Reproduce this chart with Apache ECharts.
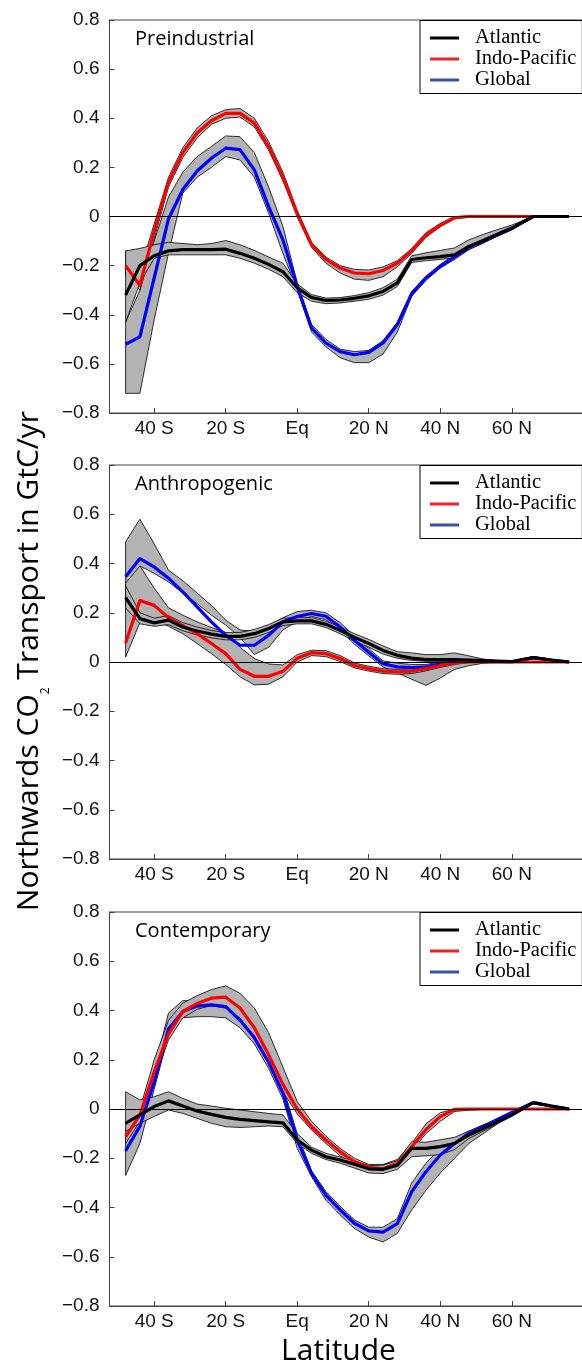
<!DOCTYPE html>
<html>
<head>
<meta charset="utf-8">
<script src="https://cdn.jsdelivr.net/npm/echarts@6/dist/echarts.min.js"></script>
<style>
  html, body { margin: 0; padding: 0; background: #fff; overflow: hidden; }
  #chart { width: 600px; height: 1366px; }
</style>
</head>
<body>
<div id="chart"></div>
<script>
// Latitude nodes (degrees, negative = south)
const lat = [-48,-44,-40,-36,-32,-28,-24,-20,-16,-12,-8,-4,0,4,8,12,16,20,24,28,32,36,40,44,48,52,56,60,66,71,76];
const latTicks = [-40,-20,0,20,40,60];
const seriesNames = ['Atlantic','Indo-Pacific','Global'];
const panelTitles = ['Preindustrial','Anthropogenic','Contemporary'];

// ---- Preindustrial (GtC/yr) ----
const atlPre   = [-0.32,-0.20,-0.16,-0.14,-0.135,-0.135,-0.135,-0.133,-0.15,-0.17,-0.195,-0.225,-0.29,-0.33,-0.342,-0.34,-0.333,-0.323,-0.305,-0.27,-0.175,-0.168,-0.163,-0.156,-0.122,-0.098,-0.072,-0.047,0,0,0];
const atlPreHi = [-0.14,-0.13,-0.115,-0.105,-0.11,-0.115,-0.11,-0.098,-0.115,-0.138,-0.165,-0.19,-0.275,-0.318,-0.332,-0.33,-0.322,-0.31,-0.29,-0.255,-0.16,-0.148,-0.138,-0.128,-0.095,-0.073,-0.053,-0.035,0.002,0.002,0.002];
const atlPreLo = [-0.43,-0.27,-0.17,-0.156,-0.156,-0.156,-0.156,-0.156,-0.17,-0.19,-0.215,-0.245,-0.31,-0.345,-0.355,-0.352,-0.345,-0.337,-0.32,-0.285,-0.187,-0.18,-0.175,-0.168,-0.135,-0.108,-0.08,-0.055,-0.002,-0.002,-0.002];
const ipPre    = [-0.20,-0.28,-0.06,0.14,0.26,0.34,0.39,0.42,0.42,0.38,0.285,0.16,0.01,-0.115,-0.175,-0.21,-0.23,-0.233,-0.22,-0.19,-0.14,-0.075,-0.035,-0.005,0,0,0,0,0,0,0];
const ipPreHi  = [-0.14,-0.22,-0.03,0.16,0.28,0.36,0.41,0.435,0.44,0.40,0.305,0.18,0.025,-0.105,-0.165,-0.2,-0.215,-0.218,-0.205,-0.18,-0.13,-0.066,-0.028,0.0,0.002,0.002,0.002,0.002,0.002,0.002,0.002];
const ipPreLo  = [-0.24,-0.30,-0.09,0.12,0.24,0.32,0.375,0.40,0.405,0.365,0.27,0.145,0.0,-0.125,-0.19,-0.23,-0.255,-0.26,-0.245,-0.205,-0.15,-0.085,-0.042,-0.01,-0.002,-0.002,-0.002,-0.002,-0.002,-0.002,-0.002];
const glPre    = [-0.52,-0.49,-0.25,-0.01,0.11,0.185,0.237,0.278,0.272,0.19,0.04,-0.095,-0.285,-0.454,-0.515,-0.55,-0.563,-0.553,-0.515,-0.44,-0.315,-0.25,-0.203,-0.165,-0.125,-0.1,-0.073,-0.048,0,0,0];
const glPreHi  = [-0.43,-0.30,-0.10,0.08,0.18,0.244,0.285,0.328,0.325,0.26,0.12,-0.04,-0.27,-0.44,-0.50,-0.54,-0.55,-0.545,-0.505,-0.43,-0.305,-0.243,-0.195,-0.155,-0.115,-0.09,-0.065,-0.042,0.002,0.002,0.002];
const glPreLo  = [-0.72,-0.72,-0.42,-0.15,0.095,0.16,0.2,0.244,0.23,0.16,0.013,-0.15,-0.30,-0.47,-0.53,-0.575,-0.595,-0.595,-0.56,-0.47,-0.325,-0.26,-0.21,-0.175,-0.135,-0.108,-0.08,-0.054,-0.002,-0.002,-0.002];

// ---- Anthropogenic ----
const atlAnt   = [0.262,0.176,0.159,0.17,0.142,0.126,0.113,0.104,0.104,0.115,0.136,0.163,0.167,0.167,0.153,0.129,0.1,0.075,0.047,0.027,0.016,0.01,0.01,0.01,0.008,0.006,0.004,0.002,0.018,0.008,0];
const atlAntHi = [0.31,0.2,0.178,0.188,0.16,0.142,0.128,0.12,0.12,0.132,0.152,0.178,0.18,0.18,0.166,0.142,0.115,0.092,0.065,0.042,0.037,0.03,0.03,0.037,0.025,0.012,0.006,0.003,0.022,0.01,0.002];
const atlAntLo = [0.22,0.155,0.145,0.152,0.127,0.11,0.098,0.09,0.09,0.1,0.12,0.148,0.155,0.155,0.14,0.115,0.085,0.06,0.032,0.015,0.006,0.003,0.003,0.002,0.002,0,0,-0.002,0.014,0.005,-0.002];
const ipAnt    = [0.077,0.25,0.23,0.18,0.148,0.115,0.075,0.034,-0.03,-0.058,-0.058,-0.038,0.015,0.038,0.034,0.014,-0.014,-0.027,-0.037,-0.04,-0.037,-0.027,-0.014,-0.004,0,0,0,0,0,0,0];
const ipAntHi  = [0.32,0.39,0.30,0.22,0.19,0.163,0.14,0.12,0.06,0.014,-0.008,-0.012,0.03,0.048,0.046,0.026,-0.004,-0.017,-0.027,-0.03,-0.028,-0.02,-0.008,0.0,0.002,0.002,0.002,0.002,0.002,0.002,0.002];
const ipAntLo  = [0.02,0.16,0.17,0.145,0.115,0.075,0.034,-0.01,-0.06,-0.093,-0.09,-0.06,0.0,0.026,0.022,0.002,-0.024,-0.037,-0.047,-0.05,-0.047,-0.036,-0.022,-0.01,-0.002,-0.002,-0.002,-0.002,-0.002,-0.002,-0.002];
const glAnt    = [0.346,0.42,0.386,0.34,0.285,0.224,0.163,0.108,0.068,0.068,0.108,0.163,0.185,0.197,0.186,0.142,0.088,0.04,-0.007,-0.02,-0.023,-0.02,-0.007,0.004,0.004,0.002,0.001,0,0.018,0.008,0];
const glAntHi  = [0.488,0.58,0.48,0.373,0.33,0.28,0.23,0.17,0.13,0.125,0.145,0.18,0.205,0.21,0.2,0.16,0.105,0.055,0.005,-0.005,-0.01,-0.01,0.0,0.012,0.01,0.006,0.004,0.002,0.022,0.01,0.002];
const glAntLo  = [0.2,0.39,0.36,0.325,0.28,0.237,0.19,0.15,0.1,0.03,0.06,0.13,0.165,0.185,0.172,0.128,0.072,0.025,-0.02,-0.045,-0.07,-0.095,-0.065,-0.03,-0.015,-0.005,-0.002,-0.002,0.014,0.005,-0.002];

// ---- Contemporary ----
const atlCon   = [-0.058,-0.024,0.01,0.033,0.012,-0.008,-0.022,-0.034,-0.042,-0.047,-0.052,-0.056,-0.126,-0.167,-0.194,-0.207,-0.224,-0.243,-0.245,-0.228,-0.16,-0.16,-0.153,-0.14,-0.106,-0.079,-0.052,-0.024,0.026,0.012,0];
const atlConHi = [0.07,0.037,0.05,0.07,0.043,0.02,0.012,0.003,-0.004,-0.011,-0.018,-0.024,-0.1,-0.155,-0.18,-0.195,-0.21,-0.23,-0.228,-0.21,-0.133,-0.135,-0.125,-0.115,-0.09,-0.065,-0.045,-0.02,0.028,0.015,0.002];
const atlConLo = [-0.09,-0.058,-0.03,-0.004,-0.018,-0.038,-0.058,-0.072,-0.075,-0.072,-0.069,-0.072,-0.14,-0.18,-0.205,-0.22,-0.24,-0.26,-0.262,-0.245,-0.194,-0.19,-0.185,-0.165,-0.12,-0.09,-0.06,-0.03,0.022,0.01,-0.002];
const ipCon    = [-0.113,-0.025,0.15,0.305,0.396,0.428,0.45,0.454,0.41,0.33,0.22,0.1,0.0,-0.072,-0.126,-0.174,-0.214,-0.237,-0.243,-0.221,-0.153,-0.083,-0.031,-0.001,0,0,0,0,0,0,0];
const ipConHi  = [-0.09,0.0,0.2,0.36,0.43,0.46,0.485,0.5,0.47,0.41,0.31,0.17,0.03,-0.05,-0.11,-0.16,-0.2,-0.225,-0.225,-0.205,-0.14,-0.06,-0.015,0.0,0.002,0.002,0.002,0.002,0.002,0.002,0.002];
const ipConLo  = [-0.14,-0.05,0.12,0.28,0.37,0.405,0.42,0.41,0.37,0.29,0.19,0.07,-0.02,-0.085,-0.14,-0.19,-0.23,-0.255,-0.26,-0.235,-0.17,-0.1,-0.05,-0.01,-0.005,-0.002,-0.002,-0.002,-0.002,-0.002,-0.002];
const glCon    = [-0.17,-0.07,0.11,0.325,0.396,0.418,0.423,0.416,0.36,0.29,0.19,0.065,-0.125,-0.262,-0.35,-0.41,-0.464,-0.495,-0.5,-0.465,-0.336,-0.255,-0.187,-0.14,-0.099,-0.072,-0.042,-0.014,0.026,0.012,0];
const glConHi  = [-0.1,-0.03,0.16,0.39,0.44,0.44,0.435,0.43,0.38,0.31,0.21,0.09,-0.1,-0.25,-0.335,-0.395,-0.45,-0.48,-0.48,-0.445,-0.3,-0.22,-0.16,-0.12,-0.09,-0.065,-0.04,-0.012,0.028,0.015,0.002];
const glConLo  = [-0.27,-0.14,0.08,0.3,0.37,0.375,0.375,0.37,0.33,0.265,0.165,0.04,-0.16,-0.275,-0.37,-0.43,-0.485,-0.52,-0.54,-0.505,-0.41,-0.33,-0.26,-0.2,-0.14,-0.1,-0.06,-0.02,0.022,0.01,-0.002];

const panels = [
  { title: panelTitles[0], atl: [atlPre, atlPreLo, atlPreHi], ip: [ipPre, ipPreLo, ipPreHi], gl: [glPre, glPreLo, glPreHi] },
  { title: panelTitles[1], atl: [atlAnt, atlAntLo, atlAntHi], ip: [ipAnt, ipAntLo, ipAntHi], gl: [glAnt, glAntLo, glAntHi] },
  { title: panelTitles[2], atl: [atlCon, atlConLo, atlConHi], ip: [ipCon, ipConLo, ipConHi], gl: [glCon, glConLo, glConHi] }
];

const lineColors = { 'Atlantic': '#000000', 'Indo-Pacific': '#ff0000', 'Global': '#0000ff' };
const legendColors = { 'Atlantic': '#000000', 'Indo-Pacific': '#ec2227', 'Global': '#3451a4' };

const gridTops = [20, 465, 912];
const gridHeights = [393, 394, 394];
const gridLeft = 109.5, gridWidth = 473.8;
const tickFont = 'Liberation Sans, Arial, sans-serif';

const chart = echarts.init(document.getElementById('chart'), null, { renderer: 'canvas' });

function latLabel(v) {
  if (Math.abs(v) < 1e-9) return 'Eq';
  return v < 0 ? (-v) + ' S' : v + ' N';
}
function valLabel(v) {
  if (Math.abs(v) < 1e-9) return '0';
  return (v < 0 ? '\u2212' : '') + Math.abs(v).toFixed(1);
}

// uncertainty envelope drawn as a closed polygon between lower and upper bounds
function bandSeries(g, name, lo, hi) {
  return {
    type: 'custom', name: name + ' range', xAxisIndex: g, yAxisIndex: g,
    silent: true, z: 1, clip: true,
    data: lat.map((x, i) => [x, lo[i], hi[i]]),
    encode: { x: 0, y: [1, 2] },
    renderItem: function (params, api) {
      if (params.dataIndex !== 0) return null;
      const pts = [];
      for (let i = 0; i < lat.length; i++) pts.push(api.coord([lat[i], hi[i]]));
      for (let i = lat.length - 1; i >= 0; i--) pts.push(api.coord([lat[i], lo[i]]));
      return {
        type: 'polygon',
        shape: { points: pts },
        style: { fill: '#b3b3b3', stroke: '#000', lineWidth: 0.8 }
      };
    }
  };
}
function lineSeries(g, name, vals, z) {
  return {
    type: 'line', name: name, xAxisIndex: g, yAxisIndex: g,
    showSymbol: false, symbol: 'none', z: z, silent: true,
    data: lat.map((x, i) => [x, vals[i]]),
    lineStyle: { color: lineColors[name], width: 3.2, join: 'round' },
    itemStyle: { color: lineColors[name] }
  };
}

const grid = [], xAxis = [], yAxis = [], series = [], legend = [], title = [];
panels.forEach((p, g) => {
  grid.push({ left: gridLeft, top: gridTops[g], width: gridWidth, height: gridHeights[g],
              show: true, borderColor: '#444', borderWidth: 1 });
  xAxis.push({
    type: 'value', gridIndex: g, min: -52.5, max: 80,
    axisLine: { show: true, onZero: false, lineStyle: { color: '#444', width: 1 } },
    axisTick: { show: true, inside: true, length: 5, customValues: latTicks, lineStyle: { color: '#444' } },
    axisLabel: { customValues: latTicks, formatter: latLabel, margin: 6,
                 fontFamily: tickFont, fontSize: 19, color: '#111' },
    splitLine: { show: false }
  });
  yAxis.push({
    type: 'value', gridIndex: g, min: -0.8, max: 0.8, interval: 0.2,
    axisLine: { show: true, onZero: false, lineStyle: { color: '#444', width: 1 } },
    axisTick: { show: true, inside: true, length: 5, lineStyle: { color: '#444' } },
    axisLabel: { formatter: valLabel, margin: 10, fontFamily: tickFont, fontSize: 19, color: '#111' },
    splitLine: { show: false }
  });
  // zero reference line
  series.push({
    type: 'line', name: 'zero', xAxisIndex: g, yAxisIndex: g, data: [], z: 0, silent: true,
    markLine: { silent: true, symbol: 'none', animation: false, label: { show: false },
                lineStyle: { color: '#000', width: 1, type: 'solid' }, data: [{ yAxis: 0 }] }
  });
  series.push(bandSeries(g, 'Global', p.gl[1], p.gl[2]));
  series.push(bandSeries(g, 'Indo-Pacific', p.ip[1], p.ip[2]));
  series.push(bandSeries(g, 'Atlantic', p.atl[1], p.atl[2]));
  series.push(lineSeries(g, 'Global', p.gl[0], 3));
  series.push(lineSeries(g, 'Indo-Pacific', p.ip[0], 4));
  series.push(lineSeries(g, 'Atlantic', p.atl[0], 5));

  legend.push({
    selectedMode: false, orient: 'vertical', left: 420, top: gridTops[g] + 0.5,
    icon: 'rect', itemWidth: 29, itemHeight: 3, itemGap: 0,
    padding: [7, 6, 3, 10], borderColor: '#000', borderWidth: 1, backgroundColor: '#fff',
    textStyle: { fontFamily: 'Liberation Serif, Times New Roman, serif', fontSize: 20.5, lineHeight: 21,
                 color: '#000', padding: [0, 0, 0, 11] },
    data: seriesNames.map(n => ({ name: n, itemStyle: { color: legendColors[n] } }))
  });
  title.push({
    text: p.title, left: 135, top: gridTops[g] + 6, padding: 0,
    textStyle: { fontFamily: 'Open Sans, sans-serif', fontSize: 20, fontWeight: 'normal', color: '#000', lineHeight: 26 }
  });
});

chart.setOption({
  animation: false,
  backgroundColor: '#fff',
  grid, xAxis, yAxis, series, legend, title,
  graphic: [
    {
      type: 'text', x: 30, y: 661, rotation: Math.PI / 2, silent: true,
      style: {
        text: '{m|Northwards CO}{s|2}{m| Transport in GtC/yr}',
        textAlign: 'center', textVerticalAlign: 'middle', fill: '#000',
        rich: {
          m: { fontFamily: 'Open Sans, sans-serif', fontSize: 30, lineHeight: 32, verticalAlign: 'top', fill: '#000' },
          s: { fontFamily: 'Open Sans, sans-serif', fontSize: 12, lineHeight: 10, verticalAlign: 'top', padding: [26, 0, 0, 0], fill: '#000' }
        }
      }
    },
    {
      type: 'text', x: 338.5, y: 1351, silent: true,
      style: { text: 'Latitude', fontFamily: 'Open Sans, sans-serif', fontSize: 30,
               textAlign: 'center', textVerticalAlign: 'middle', fill: '#000' }
    }
  ]
});
</script>
</body>
</html>
